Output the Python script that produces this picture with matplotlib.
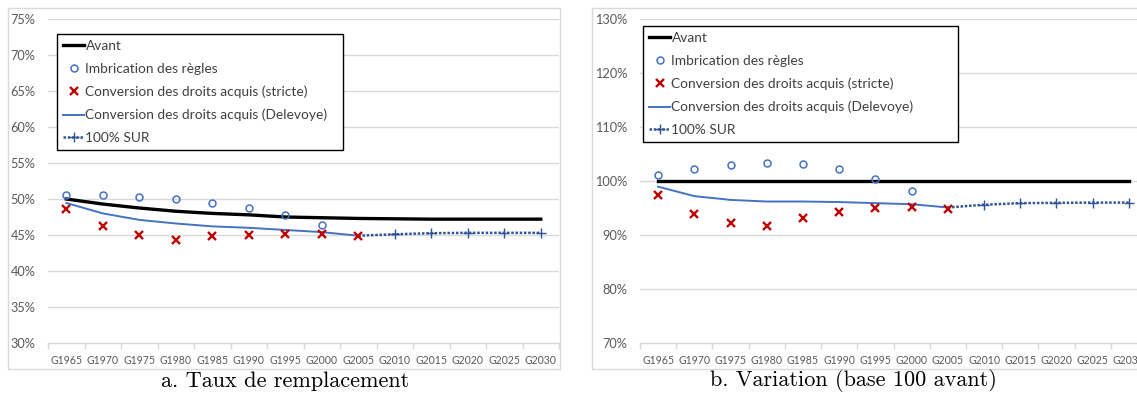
import matplotlib.pyplot as plt
from matplotlib.patches import Rectangle
from matplotlib.ticker import FixedLocator, FuncFormatter

# Generations on the x axis
generations = ["G1965", "G1970", "G1975", "G1980", "G1985", "G1990", "G1995",
               "G2000", "G2005", "G2010", "G2015", "G2020", "G2025", "G2030"]

# a. Replacement rate (%)
taux_avant = [50.0, 49.3, 48.75, 48.3, 48.0, 47.8, 47.5, 47.4, 47.3, 47.25,
              47.2, 47.2, 47.2, 47.2]
taux_imbrication = [50.6, 50.5, 50.3, 50.0, 49.5, 48.75, 47.8, 46.4]
taux_stricte = [48.65, 46.3, 45.0, 44.35, 44.8, 45.0, 45.15, 45.1, 44.8]
taux_delevoye = [49.45, 48.0, 47.1, 46.6, 46.2, 46.0, 45.7, 45.4, 44.9]
taux_sur = [44.9, 45.1, 45.25, 45.3, 45.3, 45.3]

# b. Variation, base 100 = before the reform (%)
var_avant = [100] * 14
var_imbrication = [101.1, 102.3, 103.0, 103.3, 103.1, 102.2, 100.4, 98.1]
var_stricte = [97.35, 93.9, 92.25, 91.6, 93.2, 94.3, 94.95, 95.2, 94.9]
var_delevoye = [98.95, 97.2, 96.5, 96.2, 96.2, 96.1, 95.9, 95.7, 95.1]
var_sur = [95.1, 95.6, 95.9, 95.95, 96.0, 96.0]

labels = ["Avant", "Imbrication des règles",
          "Conversion des droits acquis (stricte)",
          "Conversion des droits acquis (Delevoye)", "100% SUR"]

W, H = 1137, 394
UI_FONT = "Lato"
GRID = "#D9D9D9"
TXT = "#595959"
BLUE = "#4472C4"
DARKBLUE = "#2F5597"
RED = "#C00000"


def fx(px):
    return px / W


def fy(py):
    return 1 - py / H


def draw_panel(ax, avant, imbr, stricte, delev, sur, ylim, ystep, legend_box):
    n = len(generations)
    x_all = list(range(n))
    sur_start = len(delev) - 1

    ax.plot(x_all, avant, color="black", lw=2.4, label=labels[0], zorder=3)
    ax.plot(range(len(imbr)), imbr, ls="none", marker="o", ms=5, mfc="none",
            mec=BLUE, mew=1.1, label=labels[1], zorder=4)
    ax.plot(range(len(stricte)), stricte, ls="none", marker="x", ms=6,
            mec=RED, mew=1.7, label=labels[2], zorder=4)
    ax.plot(range(len(delev)), delev, color=BLUE, lw=1.4, label=labels[3],
            zorder=3)
    ax.plot(range(sur_start, sur_start + len(sur)), sur, color=DARKBLUE,
            lw=1.8, ls=(0, (1, 0.7)), marker="+", ms=7, mew=1.0,
            markevery=list(range(1, len(sur))), label=labels[4], zorder=3)

    ax.set_xlim(-0.5, n - 0.5)
    ax.set_ylim(*ylim)
    yt = list(range(ylim[0], ylim[1] + 1, ystep))
    ax.set_yticks(yt)
    ax.yaxis.set_major_formatter(FuncFormatter(lambda v, p: f"{v:.0f}%"))
    ax.grid(axis="y", color=GRID, lw=1.0)
    ax.set_axisbelow(True)

    ax.set_xticks(x_all)
    ax.set_xticklabels(generations)
    ax.xaxis.set_minor_locator(FixedLocator([i - 0.5 for i in range(n + 1)]))
    ax.tick_params(axis="x", which="major", length=0, pad=9,
                   labelsize=7.6, labelcolor=TXT)
    ax.tick_params(axis="x", which="minor", length=4, color=GRID, width=1)
    ax.tick_params(axis="y", length=0, pad=9, labelsize=9.2, labelcolor=TXT)
    for lab in ax.get_xticklabels() + ax.get_yticklabels():
        lab.set_fontfamily(UI_FONT)

    for side in ("top", "right", "left"):
        ax.spines[side].set_visible(False)
    ax.spines["bottom"].set_color(GRID)
    ax.spines["bottom"].set_linewidth(1.0)

    x0, y0, x1, y1 = legend_box
    leg = ax.legend(loc="upper left", mode="expand",
                    bbox_to_anchor=(fx(x0), fy(y1), fx(x1 - x0), (y1 - y0) / H),
                    bbox_transform=ax.figure.transFigure, borderaxespad=0,
                    fancybox=False, framealpha=1, edgecolor="black",
                    handlelength=1.5, handletextpad=0.12, labelspacing=0.78,
                    borderpad=0.45, handleheight=0.7,
                    prop={"family": UI_FONT, "size": 9.9})
    leg.get_frame().set_linewidth(1.0)
    for t in leg.get_texts():
        t.set_color("#404040")


fig = plt.figure(figsize=(W / 100, H / 100), dpi=100)

# Light chart frames around each panel
fig.add_artist(Rectangle((fx(8), fy(369)), fx(560 - 8), (369 - 8) / H,
                         transform=fig.transFigure, fill=False, ec=GRID, lw=1))
fig.add_artist(Rectangle((fx(592), fy(369)), fx(1160 - 592), (369 - 8) / H,
                         transform=fig.transFigure, fill=False, ec=GRID, lw=1))

ax1 = fig.add_axes([fx(48), fy(343), fx(559 - 48), (343 - 19) / H])
draw_panel(ax1, taux_avant, taux_imbrication, taux_stricte, taux_delevoye,
           taux_sur, (30, 75), 5, (57, 34, 343, 152))

ax2 = fig.add_axes([fx(640), fy(343), fx(1147 - 640), (343 - 19) / H])
draw_panel(ax2, var_avant, var_imbrication, var_stricte, var_delevoye,
           var_sur, (70, 130), 10, (643, 26, 958, 150))

fig.text(fx(285), fy(381), "a. Taux de remplacement", family="cmr10",
         size=16, ha="center", va="center")
fig.text(fx(853), fy(381), "b. Variation (base 100 avant)", family="cmr10",
         size=16, ha="center", va="center")

fig.savefig("out.png", dpi=100)
